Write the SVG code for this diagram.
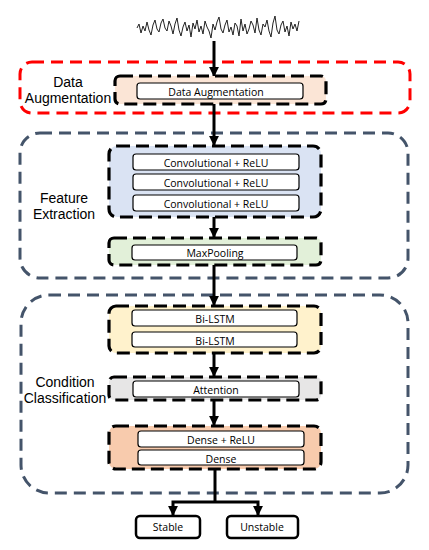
<svg xmlns="http://www.w3.org/2000/svg" width="429" height="550" viewBox="0 0 429 550">
<defs>
<style>
.grp{fill:none;stroke-width:3;stroke-dasharray:12 7}
.red{stroke:#FF0000}
.slate{stroke:#44546A}
.node{stroke:#000;stroke-width:3.2;stroke-dasharray:13 6}
.inner{fill:#fff;stroke:#000;stroke-width:1.2}
.lbl{font-family:"Open Sans","Liberation Sans",sans-serif;font-size:10.5px;fill:#000;text-anchor:middle}
.side{font-family:"Liberation Sans",Arial,sans-serif;font-size:14px;fill:#000;text-anchor:middle}
.out{fill:#fff;stroke:#000;stroke-width:2.5}
.con{fill:none;stroke:#000;stroke-width:3}
</style>
<marker id="ah" viewBox="0 0 10 10" refX="9" refY="5" markerWidth="3.3" markerHeight="3.3" orient="auto" markerUnits="strokeWidth">
<path d="M0,0 L10,5 L0,10 z" fill="#000"/>
</marker>
</defs>
<rect width="429" height="550" fill="#fff"/>

<g id="signal">
<polyline fill="none" stroke="#222" stroke-width="1" points="137,28 139,24 141,33 143,26 145,31 147,22 149,30 151,35 153,25 155,20 157,29 159,32 161,23 163,19 165,28 167,31 169,21 171,26 173,34 175,24 177,18 179,30 181,36 183,27 185,22 187,31 189,25 191,37 193,23 195,29 197,20 199,32 201,26 203,34 205,21 207,27 209,31 211,38 213,24 215,30 217,22 219,17 221,29 223,33 225,25 227,20 229,32 231,27 233,35 235,23 237,26 239,36 241,19 243,31 245,24 247,34 249,29 251,21 253,25 255,33 257,18 259,30 261,35 263,24 265,27 267,20 269,31 271,37 273,23 275,16 277,30 279,34 281,25 283,21 285,32 287,26 289,36 291,22 293,29 295,24 297,31 299,21"/>
</g>

<g id="group-data-augmentation">
<rect class="grp red" x="20" y="62" width="390" height="51" rx="12"/>
<text class="side" x="68" y="87">Data</text>
<text class="side" x="68" y="103">Augmentation</text>
</g>
<g id="group-feature-extraction">
<rect class="grp slate" x="20" y="133" width="388" height="145" rx="20"/>
<text class="side" x="64" y="203">Feature</text>
<text class="side" x="64" y="219">Extraction</text>
</g>
<g id="group-condition-classification">
<rect class="grp slate" x="21" y="295" width="387" height="198" rx="28"/>
<text class="side" x="65" y="387">Condition</text>
<text class="side" x="65" y="403">Classification</text>
</g>

<g id="connectors">
<line class="con" x1="214" y1="41" x2="214" y2="76" marker-end="url(#ah)"/>
<line class="con" x1="214" y1="104" x2="214" y2="145" marker-end="url(#ah)"/>
<line class="con" x1="214" y1="217" x2="214" y2="237" marker-end="url(#ah)"/>
<line class="con" x1="214" y1="265" x2="214" y2="305" marker-end="url(#ah)"/>
<line class="con" x1="214" y1="353" x2="214" y2="376" marker-end="url(#ah)"/>
<line class="con" x1="214" y1="400" x2="214" y2="425" marker-end="url(#ah)"/>
<polyline class="con" points="215,469 215,502"/>
<polyline class="con" points="215,502 173,502 173,515" marker-end="url(#ah)"/>
<polyline class="con" points="215,502 258,502 258,515" marker-end="url(#ah)"/>
</g>

<g id="node-data-augmentation">
<rect class="node" x="115" y="76" width="211" height="28" rx="5" fill="#FBE5D6"/>
<rect class="inner" x="137" y="83" width="166" height="16" rx="3"/>
<text class="lbl" x="216" y="95.5">Data Augmentation</text>
</g>

<g id="node-conv">
<rect class="node" x="109" y="146" width="212" height="71" rx="8" fill="#DAE3F3"/>
<rect class="inner" x="133" y="154" width="166" height="16" rx="3"/>
<text class="lbl" x="216" y="167">Convolutional + ReLU</text>
<rect class="inner" x="133" y="174" width="166" height="16" rx="3"/>
<text class="lbl" x="216" y="187">Convolutional + ReLU</text>
<rect class="inner" x="133" y="195" width="166" height="16" rx="3"/>
<text class="lbl" x="216" y="208">Convolutional + ReLU</text>
</g>

<g id="node-maxpooling">
<rect class="node" x="109" y="238" width="212" height="27" rx="5" fill="#E2F0D9"/>
<rect class="inner" x="132" y="245" width="165" height="15" rx="3"/>
<text class="lbl" x="215" y="257">MaxPooling</text>
</g>

<g id="node-bilstm">
<rect class="node" x="109" y="306" width="212" height="47" rx="7" fill="#FFF2CC"/>
<rect class="inner" x="132" y="310" width="165" height="16" rx="3"/>
<text class="lbl" x="215" y="323">Bi-LSTM</text>
<rect class="inner" x="132" y="332" width="165" height="15" rx="3"/>
<text class="lbl" x="215" y="344.5">Bi-LSTM</text>
</g>

<g id="node-attention">
<rect class="node" x="109" y="377" width="212" height="23" rx="5" fill="#E7E6E6"/>
<rect class="inner" x="133" y="381" width="166" height="16" rx="3"/>
<text class="lbl" x="216" y="394">Attention</text>
</g>

<g id="node-dense">
<rect class="node" x="109" y="426" width="212" height="43" rx="7" fill="#F8CBAD"/>
<rect class="inner" x="138" y="431" width="166" height="16" rx="3"/>
<text class="lbl" x="221" y="444">Dense + ReLU</text>
<rect class="inner" x="138" y="450" width="166" height="15" rx="3"/>
<text class="lbl" x="221" y="463">Dense</text>
</g>

<g id="node-stable">
<rect class="out" x="136" y="516" width="64" height="22" rx="4"/>
<text class="lbl" x="168" y="531">Stable</text>
</g>
<g id="node-unstable">
<rect class="out" x="227" y="516" width="71" height="22" rx="4"/>
<text class="lbl" x="262" y="531">Unstable</text>
</g>
</svg>
